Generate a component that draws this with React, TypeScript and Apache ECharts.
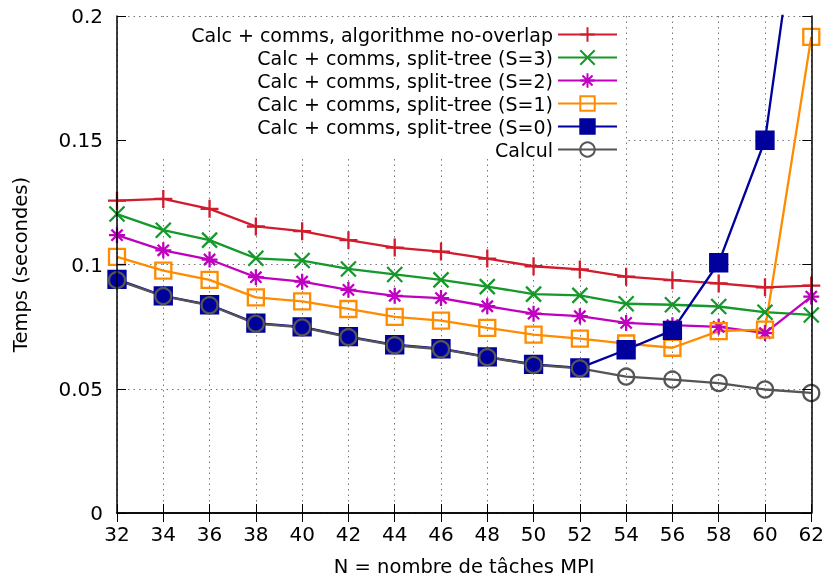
import React, { useEffect, useRef } from "react";
import * as echarts from "echarts";

const xValues = [32, 34, 36, 38, 40, 42, 44, 46, 48, 50, 52, 54, 56, 58, 60, 62];
const seriesNames = [
  "Calc + comms, algorithme no-overlap",
  "Calc + comms, split-tree (S=3)",
  "Calc + comms, split-tree (S=2)",
  "Calc + comms, split-tree (S=1)",
  "Calc + comms, split-tree (S=0)",
  "Calcul",
];
const noOverlap = [0.1257, 0.1264, 0.1224, 0.1153, 0.1134, 0.1098, 0.1068, 0.1052, 0.1024, 0.0993, 0.098, 0.0951, 0.0937, 0.0924, 0.0908, 0.0915];
const splitS3 = [0.1203, 0.1138, 0.1098, 0.1025, 0.1016, 0.0982, 0.096, 0.0938, 0.0911, 0.0881, 0.0876, 0.0842, 0.0838, 0.0831, 0.0808, 0.0797];
const splitS2 = [0.1118, 0.1057, 0.102, 0.0949, 0.0931, 0.0898, 0.0874, 0.0865, 0.0832, 0.0802, 0.0792, 0.0765, 0.0756, 0.0749, 0.0724, 0.0871];
const splitS1 = [0.1031, 0.0975, 0.0938, 0.0868, 0.0852, 0.0821, 0.0789, 0.0774, 0.0745, 0.0718, 0.0702, 0.0682, 0.0665, 0.0732, 0.0738, 0.1916];
const splitS0 = [0.094, 0.0874, 0.0838, 0.0764, 0.0749, 0.071, 0.0677, 0.0661, 0.0628, 0.0598, 0.0584, 0.0657, 0.0735, 0.1007, 0.15, 0.283];
const calcul = [0.0937, 0.0873, 0.0836, 0.0762, 0.0747, 0.0708, 0.0675, 0.0659, 0.0627, 0.0596, 0.0582, 0.0549, 0.0537, 0.0523, 0.0497, 0.0483];
const yTicks = [0, 0.05, 0.1, 0.15, 0.2];

const FONT = "DejaVu Sans";
const PLUS = "path://M5,0L5,10M0,5L10,5";
const CROSS = "path://M0,0L10,10M0,10L10,0";
const STAR = "path://M5,0L5,10M0,5L10,5M1.5,1.5L8.5,8.5M1.5,8.5L8.5,1.5";

function pairs(vals: number[]) {
  return xValues.map((x, i) => [x, vals[i]]);
}

export default function App() {
  const ref = useRef<HTMLDivElement>(null);
  useEffect(() => {
    if (!ref.current) return;
    const chart = echarts.init(ref.current, null, { renderer: "svg" });
    const mk = (name: string, data: number[], color: string, symbol: string, size: number, fill: string) => ({
      name,
      type: "line",
      data: pairs(data),
      xAxisIndex: 0,
      yAxisIndex: 0,
      symbol,
      symbolSize: size,
      symbolKeepAspect: true,
      showAllSymbol: true,
      clip: true,
      lineStyle: { color, width: 2.3 },
      itemStyle: { color: fill, borderColor: color, borderWidth: 2.3, opacity: 1 },
      emphasis: { disabled: true },
    });
    const frameAxis = {
      type: "value",
      axisLine: { show: true, lineStyle: { color: "#000", width: 1.5 } },
      axisTick: { show: true, inside: true, length: 9, lineStyle: { color: "#000", width: 1 } },
      splitLine: { show: false },
      z: 5,
    };
    const gridLine = { show: true, lineStyle: { color: "#777", width: 1, type: [1.5, 4] } };
    chart.setOption({
      animation: false,
      grid: { left: 117, right: 10, top: 16, bottom: 65 },
      xAxis: [
        {
          ...frameAxis,
          position: "bottom",
          min: 32,
          max: 62,
          interval: 2,
          axisLabel: { show: true, color: "#000", fontSize: 20, fontFamily: FONT, margin: 11 },
          name: "N = nombre de tâches MPI",
          nameLocation: "middle",
          nameGap: 43,
          nameTextStyle: { color: "#000", fontSize: 19.5, fontFamily: FONT },
        },
        { ...frameAxis, position: "top", min: 32, max: 62, interval: 2, axisLabel: { show: false } },
        {
          type: "value",
          position: "bottom",
          min: 32,
          max: 62,
          interval: 2,
          axisLine: { show: false },
          axisTick: { show: false },
          axisLabel: { show: false },
          splitLine: gridLine,
          z: 0,
        },
      ],
      yAxis: [
        {
          ...frameAxis,
          position: "left",
          min: 0,
          max: 0.2,
          interval: 0.05,
          axisLabel: {
            show: true,
            color: "#000",
            fontSize: 20,
            fontFamily: FONT,
            margin: 14,
            formatter: (v: number) => {
              const t = yTicks.find((k) => Math.abs(k - v) < 1e-9);
              return String(t !== undefined ? t : v);
            },
          },
          name: "Temps (secondes)",
          nameLocation: "middle",
          nameGap: 87,
          nameTextStyle: { color: "#000", fontSize: 19.5, fontFamily: FONT },
        },
        { ...frameAxis, position: "right", min: 0, max: 0.2, interval: 0.05, axisLabel: { show: false } },
        {
          type: "value",
          position: "left",
          min: 0,
          max: 0.2,
          interval: 0.05,
          axisLine: { show: false },
          axisTick: { show: false },
          axisLabel: { show: false },
          splitLine: gridLine,
          z: 0,
        },
      ],
      graphic: [
        {
          type: "rect",
          z: 1,
          left: 118,
          top: 17,
          shape: { width: 508, height: 138 },
          style: { fill: "#fff" },
          silent: true,
        },
      ],
      legend: {
        data: seriesNames,
        orient: "vertical",
        align: "right",
        right: 209,
        top: 25,
        padding: 0,
        itemWidth: 59,
        itemHeight: 18,
        itemGap: 4,
        selectedMode: false,
        textStyle: { color: "#000", fontSize: 19, fontFamily: FONT },
        z: 6,
      },
      series: [
        mk(seriesNames[0], noOverlap, "#d01c2c", PLUS, 18, "#d01c2c"),
        mk(seriesNames[1], splitS3, "#14992a", CROSS, 15, "#14992a"),
        mk(seriesNames[2], splitS2, "#bf00bf", STAR, 16, "#bf00bf"),
        mk(seriesNames[3], splitS1, "#ff8c00", "rect", 16, "rgba(255,255,255,0)"),
        mk(seriesNames[4], splitS0, "#00009c", "rect", 17, "#00009c"),
        mk(seriesNames[5], calcul, "#555555", "circle", 16, "rgba(255,255,255,0)"),
      ],
    });
    return () => chart.dispose();
  }, []);
  return <div ref={ref} style={{ position: "fixed", left: 0, top: 0, width: 827, height: 581 }} />;
}
